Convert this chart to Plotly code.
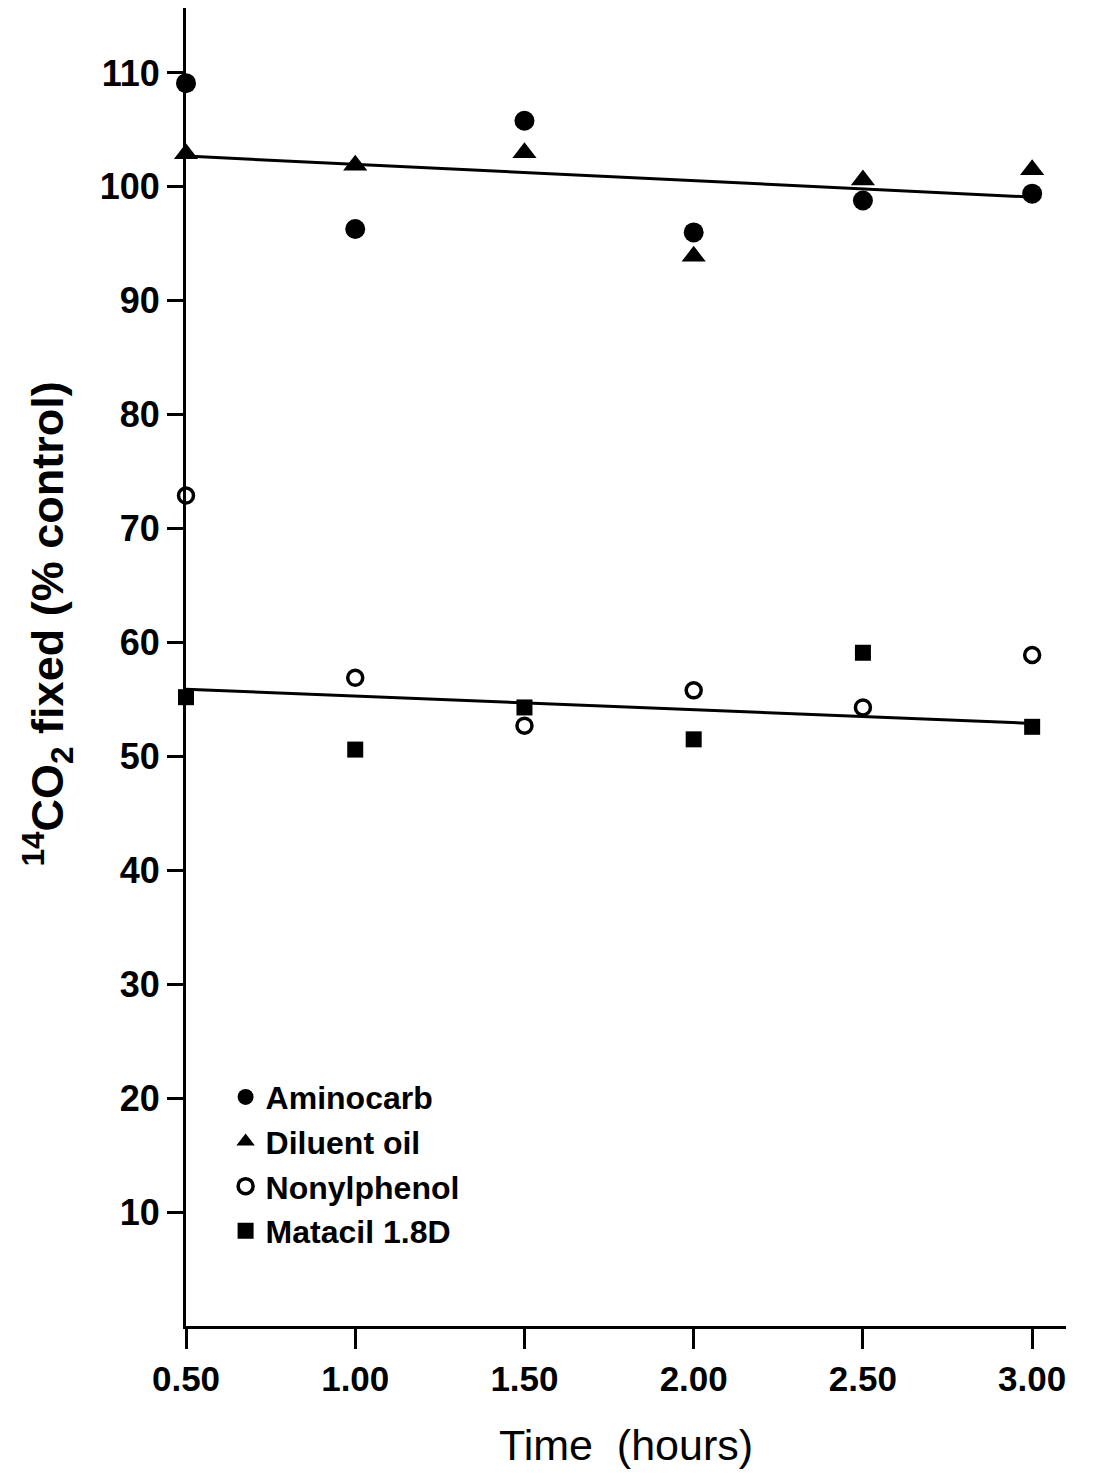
import plotly.graph_objects as go

time_h = [0.5, 1.0, 1.5, 2.0, 2.5, 3.0]
aminocarb = [109.1, 96.3, 105.8, 96.0, 98.8, 99.4]
diluent_oil = [102.9, 101.9, 103.0, 93.9, 100.6, 101.5]
nonylphenol = [72.9, 56.9, 52.7, 55.8, 54.3, 58.9]
matacil = [55.2, 50.6, 54.3, 51.5, 59.1, 52.6]

fit_x = [0.5, 3.0]
upper_fit = [102.7, 99.1]
lower_fit = [55.9, 52.9]

x_ticks = [0.5, 1.0, 1.5, 2.0, 2.5, 3.0]
x_tick_labels = ["0.50", "1.00", "1.50", "2.00", "2.50", "3.00"]
y_ticks = [10, 20, 30, 40, 50, 60, 70, 80, 90, 100, 110]
y_tick_labels = [str(v) for v in y_ticks]

FONT = "Liberation Sans"

fig = go.Figure()

for fy in (upper_fit, lower_fit):
    fig.add_trace(go.Scatter(x=fit_x, y=fy, mode="lines",
                             line=dict(color="black", width=3),
                             showlegend=False, hoverinfo="skip", cliponaxis=False))

fig.add_trace(go.Scatter(x=time_h, y=aminocarb, mode="markers", name="Aminocarb",
                         cliponaxis=False,
                         marker=dict(symbol="circle", size=20, color="black")))
fig.add_trace(go.Scatter(x=time_h, y=diluent_oil, mode="markers", name="Diluent oil",
                         cliponaxis=False,
                         marker=dict(symbol="triangle-up", size=21, color="black")))
fig.add_trace(go.Scatter(x=time_h, y=nonylphenol, mode="markers", name="Nonylphenol",
                         cliponaxis=False,
                         marker=dict(symbol="circle-open", size=15, color="black",
                                     line=dict(width=3.5, color="black"))))
fig.add_trace(go.Scatter(x=time_h, y=matacil, mode="markers", name="Matacil 1.8D",
                         cliponaxis=False,
                         marker=dict(symbol="square", size=16, color="black")))

fig.add_annotation(text="<sup>14</sup>CO<sub>2</sub> fixed (% control)",
                   xref="paper", yref="paper", x=-0.158, y=0.533,
                   xanchor="center", yanchor="middle", textangle=-90,
                   showarrow=False, font=dict(family=FONT, size=45, weight="bold"))

fig.update_layout(
    width=1110, height=1474,
    margin=dict(l=178, r=52, t=0, b=156, autoexpand=False),
    plot_bgcolor="white", paper_bgcolor="white",
    font=dict(family=FONT, color="black"),
    legend=dict(x=0.045, y=0.1945, xanchor="left", yanchor="top",
                font=dict(family=FONT, size=32, weight="bold"),
                bgcolor="rgba(0,0,0,0)", itemsizing="trace",
                tracegroupgap=0),
    xaxis=dict(range=[0.5, 3.1], tickvals=x_ticks, ticktext=x_tick_labels,
               showline=True, linecolor="black", linewidth=3,
               ticks="outside", ticklen=20, tickwidth=3, tickcolor="black",
               showgrid=False, zeroline=False, automargin=False,
               tickfont=dict(family=FONT, size=35, weight="bold"),
               title=dict(text="Time  (hours)", font=dict(family=FONT, size=43), standoff=33)),
    yaxis=dict(range=[0, 115.7], tickvals=y_ticks, ticktext=y_tick_labels,
               showline=True, linecolor="black", linewidth=3,
               ticks="outside", ticklen=16, tickwidth=3, tickcolor="black",
               showgrid=False, zeroline=False, automargin=False,
               tickfont=dict(family=FONT, size=36, weight="bold")),
)

fig.write_html("out.html")
